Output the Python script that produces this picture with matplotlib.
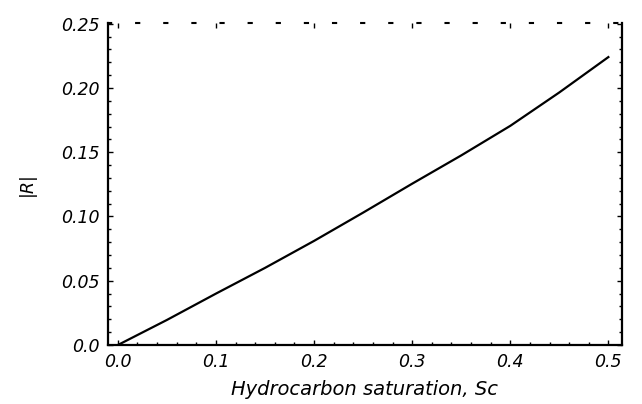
import matplotlib
matplotlib.use("Agg")
import matplotlib.pyplot as plt
import numpy as np

sc = [0.0, 0.05, 0.10, 0.15, 0.20, 0.25, 0.30, 0.35, 0.40, 0.45, 0.50]
r_abs = [0.0, 0.0195, 0.040, 0.060, 0.081, 0.103, 0.1255, 0.1475, 0.1705, 0.1965, 0.224]

xticks = [0.0, 0.1, 0.2, 0.3, 0.4, 0.5]
xticklabels = ["0.0", "0.1", "0.2", "0.3", "0.4", "0.5"]
yticks = [0.0, 0.05, 0.10, 0.15, 0.20, 0.25]
yticklabels = ["0.0", "0.05", "0.10", "0.15", "0.20", "0.25"]

plt.rcParams['font.family'] = ['DejaVu Sans']
plt.rcParams['font.style'] = 'italic'

fig = plt.figure(figsize=(6.42, 4.04), dpi=100)
ax = fig.add_axes([0.168, 0.146, 0.801, 0.797])

ax.plot(sc, r_abs, color='black', lw=1.6)

ax.set_xlim(-0.0102, 0.514)
ax.set_ylim(0.0, 0.2505)

ax.set_xticks(xticks)
ax.set_xticklabels(xticklabels, fontsize=12.5, style='italic')
ax.set_yticks(yticks)
ax.set_yticklabels(yticklabels, fontsize=12.5, style='italic')
ax.set_xticks(np.arange(0, 0.51, 0.02), minor=True)
ax.set_yticks(np.arange(0, 0.251, 0.01), minor=True)

ax.tick_params(which='major', direction='in', length=3.5, width=1, top=True, right=True)
ax.tick_params(which='minor', direction='in', length=2, width=1, top=False, right=True)
ax.tick_params(axis='y', which='major', pad=6)
ax.tick_params(axis='x', which='major', pad=6)

for s in ['left', 'bottom', 'right']:
    ax.spines[s].set_linewidth(1.6)
ax.spines['top'].set_linestyle((0, (1.5, 12)))
ax.spines['top'].set_linewidth(1.5)

ax.set_xlabel("Hydrocarbon saturation, Sc", fontsize=14, style='italic', labelpad=6)
ax.set_ylabel("|R|", fontsize=12.5, style='italic', labelpad=18)

fig.savefig("out.png", dpi=100)
